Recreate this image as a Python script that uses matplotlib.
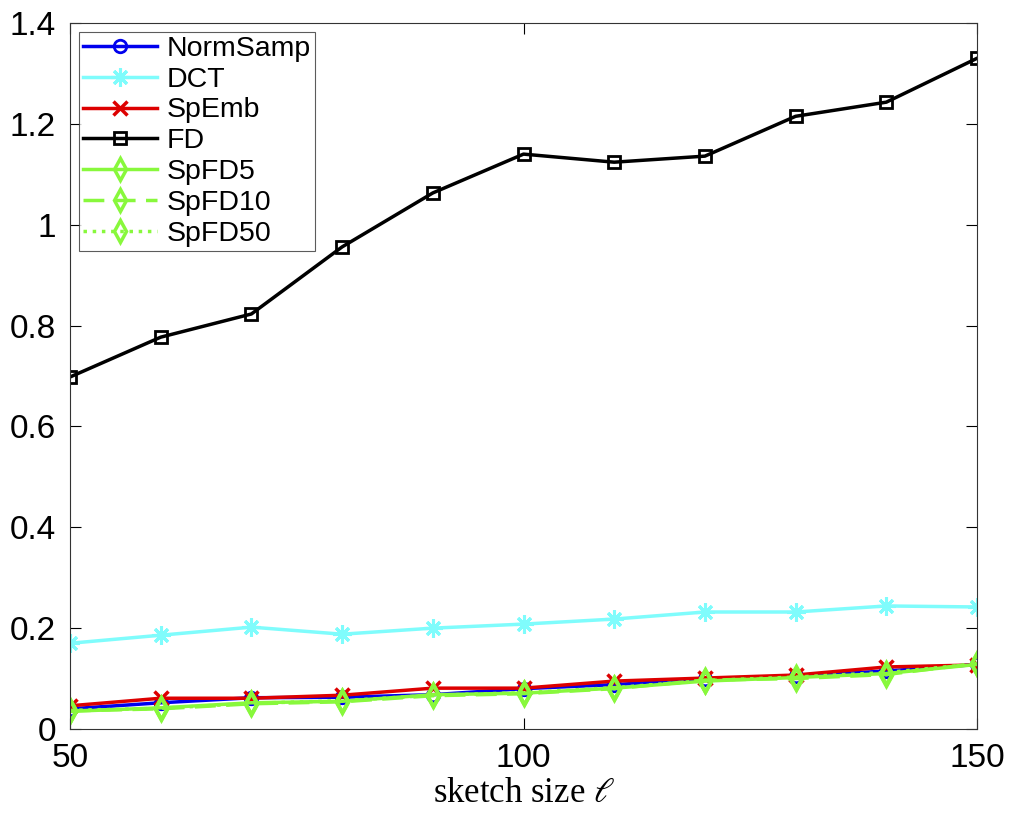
import numpy as np
import matplotlib.pyplot as plt

plt.rcParams['font.family'] = ['Liberation Sans', 'DejaVu Sans']
plt.rcParams['mathtext.fontset'] = 'stix'

sizes = [50, 60, 70, 80, 90, 100, 110, 120, 130, 140, 150]

norm_samp = [0.040, 0.052, 0.062, 0.063, 0.068, 0.080, 0.088, 0.099, 0.105, 0.115, 0.128]
dct = [0.170, 0.186, 0.202, 0.188, 0.200, 0.208, 0.218, 0.232, 0.232, 0.244, 0.242]
sp_emb = [0.046, 0.061, 0.061, 0.067, 0.081, 0.081, 0.095, 0.101, 0.107, 0.123, 0.127]
fd = [0.698, 0.777, 0.823, 0.956, 1.063, 1.140, 1.124, 1.136, 1.215, 1.243, 1.330]
spfd5 = [0.035, 0.042, 0.052, 0.055, 0.068, 0.071, 0.081, 0.095, 0.102, 0.110, 0.128]
spfd10 = [0.036, 0.040, 0.050, 0.054, 0.066, 0.070, 0.080, 0.097, 0.100, 0.108, 0.130]
spfd50 = [0.037, 0.041, 0.051, 0.056, 0.067, 0.072, 0.082, 0.096, 0.103, 0.112, 0.129]

green = '#88f83c'

fig = plt.figure(figsize=(10.14, 8.27), dpi=100)
ax = fig.add_axes([70/1014, 1-729/827, (977-70)/1014, (729-23)/827])

lw = 2.5
ax.plot(sizes, norm_samp, color='#0000ee', marker='o', mfc='none', ms=9, mew=2, lw=lw, label='NormSamp')
ax.plot(sizes, dct, color='#7ffcfc', marker=(8, 2, 0), ms=13, mew=2.2, lw=lw, label='DCT')
ax.plot(sizes, sp_emb, color='#dd0000', marker='x', ms=10, mew=2.5, lw=lw, label='SpEmb')
ax.plot(sizes, fd, color='black', marker='s', mfc='none', ms=9, mew=2, lw=lw, label='FD')
ax.plot(sizes, spfd5, color=green, marker='d', mfc='none', ms=11, mew=2.5, lw=lw, label='SpFD5')
ax.plot(sizes, spfd10, color=green, marker='d', mfc='none', ms=11, mew=2.5, lw=lw, ls=(0, (6, 3)), label='SpFD10')
ax.plot(sizes, spfd50, color=green, marker='d', mfc='none', ms=11, mew=2.5, lw=lw, ls=':', label='SpFD50')

ax.set_xlim(50, 150)
ax.set_ylim(0, 1.4)
ax.set_xticks([50, 100, 150])
ax.set_yticks([0, 0.2, 0.4, 0.6, 0.8, 1.0, 1.2, 1.4])
ax.set_yticklabels(['0', '0.2', '0.4', '0.6', '0.8', '1', '1.2', '1.4'])
ax.tick_params(direction='in', top=True, right=True, labelsize=24, length=8, width=0.8, pad=10)
for s in ax.spines.values():
    s.set_linewidth(0.8)
    s.set_color('#333333')

ax.set_xlabel(r'sketch size $\ell$', fontsize=25, family='Liberation Serif', labelpad=2)

leg = ax.legend(loc='upper left', fontsize=20.5, frameon=True, fancybox=False, edgecolor='#333333',
                borderpad=0.15, labelspacing=0.17, handlelength=2.6, handletextpad=0.35,
                borderaxespad=0.3)
leg.get_frame().set_linewidth(0.8)

fig.savefig('out.png', dpi=100)
